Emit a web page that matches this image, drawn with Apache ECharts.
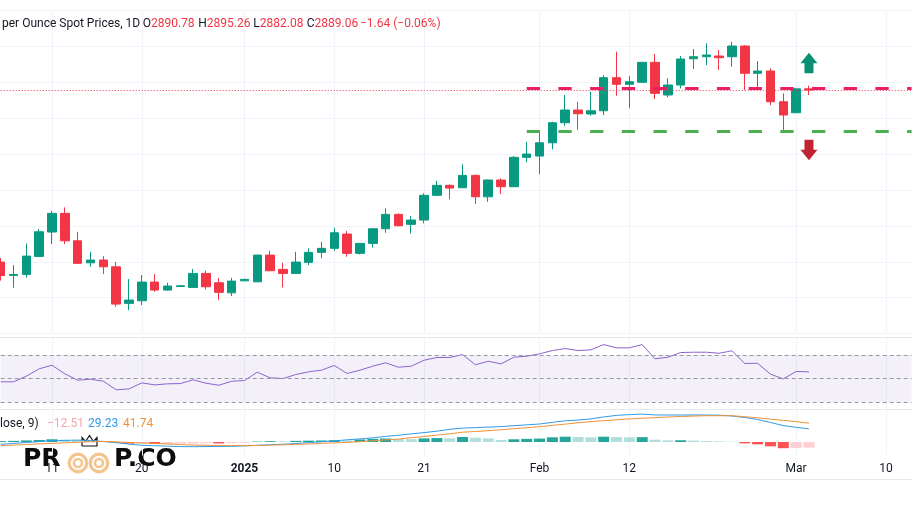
<!DOCTYPE html>
<html>
<head>
<meta charset="utf-8">
<script src="https://cdn.jsdelivr.net/npm/echarts@6/dist/echarts.min.js"></script>
<style>
html,body{margin:0;padding:0;background:#ffffff;}
#chart{width:912px;height:513px;}
</style>
</head>
<body>
<div id="chart"></div>
<script>
// ---------------- DATA ----------------
const categories = [
 '2024-12-05','2024-12-06','2024-12-09','2024-12-10','2024-12-11','2024-12-12','2024-12-13','2024-12-16','2024-12-17','2024-12-18',
 '2024-12-19','2024-12-20','2024-12-23','2024-12-24','2024-12-25','2024-12-26','2024-12-27','2024-12-30','2024-12-31','2025-01-01',
 '2025-01-02','2025-01-03','2025-01-06','2025-01-07','2025-01-08','2025-01-09','2025-01-10','2025-01-13','2025-01-14','2025-01-15',
 '2025-01-16','2025-01-17','2025-01-20','2025-01-21','2025-01-22','2025-01-23','2025-01-24','2025-01-27','2025-01-28','2025-01-29',
 '2025-01-30','2025-01-31','2025-02-03','2025-02-04','2025-02-05','2025-02-06','2025-02-07','2025-02-10','2025-02-11','2025-02-12',
 '2025-02-13','2025-02-14','2025-02-17','2025-02-18','2025-02-19','2025-02-20','2025-02-21','2025-02-24','2025-02-25','2025-02-26',
 '2025-02-27','2025-02-28','2025-03-03','2025-03-04','2025-03-05','2025-03-06','2025-03-07','2025-03-10','2025-03-11','2025-03-12',
 '2025-03-13','2025-03-14'
];

const opens = [2649.6,2631.0,2632.4,2657.5,2691.4,2717.4,2679.2,2648.6,2652.4,2643.0,
 2592.1,2595.7,2621.7,2610.6,2615.7,2614.3,2633.8,2620.8,2606.8,2623.5,
 2622.1,2659.3,2639.4,2633.8,2649.2,2663.1,2668.7,2688.6,2661.7,2675.6,
 2696.0,2716.0,2702.1,2708.1,2742.5,2756.4,2753.1,2770.3,2740.5,2763.8,
 2754.5,2795.4,2797.2,2815.7,2843.6,2861.3,2855.7,2860.3,2906.3,2897.1,
 2899.9,2927.7,2882.2,2896.1,2932.7,2935.5,2936.5,2935.5,2950.4,2912.4,
 2915.6,2872.8,2857.5,2890.78];
const highs = [2655.2,2645.4,2675.6,2695.5,2721.0,2725.8,2691.8,2663.9,2657.9,2650.0,
 2625.9,2631.5,2632.9,2620.8,2617.1,2639.8,2637.5,2627.7,2627.7,2626.3,
 2659.8,2665.3,2648.6,2663.9,2668.7,2677.9,2697.4,2692.8,2676.1,2696.4,
 2724.4,2717.4,2713.6,2745.3,2762.8,2757.8,2785.7,2771.7,2764.3,2766.2,
 2797.2,2817.1,2831.1,2845.0,2882.2,2872.8,2886.8,2910.0,2942.5,2908.6,
 2928.2,2939.3,2905.4,2936.5,2946.2,2954.2,2944.9,2956.4,2951.8,2929.5,
 2919.4,2884.5,2891.2,2895.26];
const lows = [2623.8,2613.8,2627.7,2657.0,2674.7,2674.7,2647.2,2643.0,2632.9,2587.3,
 2582.7,2589.7,2608.2,2609.6,2615.2,2613.9,2611.6,2596.7,2602.2,2623.1,
 2621.6,2637.0,2614.3,2633.4,2645.4,2654.7,2665.3,2657.0,2660.3,2670.0,
 2690.4,2699.7,2689.5,2703.5,2742.0,2736.9,2752.7,2730.4,2733.6,2744.3,
 2754.0,2788.4,2771.7,2806.5,2839.0,2833.8,2853.6,2854.3,2881.2,2863.7,
 2899.5,2876.6,2879.0,2891.5,2918.4,2924.0,2917.0,2921.6,2889.1,2891.5,
 2868.2,2831.1,2857.0,2882.08];
const closes = [2630.8,2632.4,2657.9,2691.8,2717.4,2679.2,2647.8,2652.4,2643.0,2591.1,
 2596.7,2621.7,2610.6,2616.2,2616.6,2633.8,2615.2,2607.4,2623.1,2625.5,
 2659.3,2637.5,2633.8,2649.6,2663.1,2668.7,2690.4,2661.7,2675.6,2696.0,
 2716.0,2700.1,2708.1,2742.5,2756.4,2752.6,2770.3,2740.5,2763.8,2754.5,
 2795.4,2800.0,2815.7,2843.6,2861.3,2856.1,2860.3,2906.3,2897.1,2900.7,
 2927.7,2884.5,2896.1,2932.3,2935.5,2937.9,2934.1,2950.4,2912.4,2915.6,
 2872.8,2854.3,2890.78,2889.06];

const rsiValues = [47.2,47.2,52.0,58.3,61.3,54.0,48.6,49.4,47.7,40.4,
 41.2,46.3,44.6,45.5,45.7,48.9,46.0,44.3,47.7,48.3,
 55.4,50.6,50.0,53.4,55.7,57.1,61.1,54.3,57.1,60.5,
 63.4,59.6,60.5,65.6,67.9,67.9,70.4,61.7,64.7,62.5,
 68.1,69.0,71.0,73.8,75.5,73.8,74.4,78.9,76.1,76.1,
 78.9,66.8,68.1,72.1,72.4,72.4,71.5,73.6,62.8,63.0,
 53.7,49.7,56.0,55.7];

const macdLine = [-5.1,-3.1,-1.1,0.9,2.9,3.6,4.2,3.3,1.1,-1.6,
 -4.7,-7.3,-8.2,-9.3,-10.2,-10.4,-10.2,-9.8,-9.6,-8.7,
 -7.3,-6.2,-5.1,-3.3,-1.3,0.4,2.4,4.9,6.9,9.3,
 12.4,15.1,18.0,20.9,24.0,28.2,30.9,32.0,33.1,34.2,
 36.2,38.2,40.0,43.6,47.1,48.9,51.3,55.8,59.1,60.9,
 62.0,60.2,60.0,60.0,60.0,60.0,59.6,57.8,54.4,50.0,
 43.3,36.5,32.5,29.23];
const signalLine = [-8.2,-6.9,-5.6,-4.2,-3.1,-1.8,-0.7,0.7,1.3,0.2,
 -1.1,-2.2,-3.3,-4.4,-5.6,-6.7,-7.3,-7.8,-8.0,-8.2,
 -7.8,-6.9,-6.2,-5.3,-4.4,-3.1,-2.0,-0.9,0.7,2.7,
 4.7,6.4,9.6,12.2,15.3,18.2,21.8,23.3,25.1,27.3,
 29.6,31.8,34.0,36.9,39.8,42.7,45.3,47.3,49.3,51.3,
 52.9,54.2,55.6,56.7,57.6,58.4,58.4,58.4,56.2,53.8,
 50.7,48.0,45.3,41.74];
const macdHist = [2.0,2.5,3.5,4.5,6.0,5.0,4.0,2.5,0.8,-1.2,
 -3.5,-3.0,-4.5,-4.0,-3.6,-3.2,-2.8,-3.3,-2.6,-1.8,
 1.0,1.8,1.5,2.5,3.0,3.4,4.0,3.6,5.5,7.0,
 7.8,6.8,6.2,8.0,8.8,8.2,11.1,9.6,8.1,4.4,
 6.0,7.0,7.6,10.4,11.8,11.1,10.4,11.8,11.1,10.4,
 10.8,5.2,3.7,3.9,3.0,2.2,1.5,0.7,-3.0,-5.2,
 -9.6,-13.8,-13.0,-12.51];

const tickLabels = [[4,'11'],[11,'20'],[19,'2025'],[26,'10'],[33,'21'],[42,'Feb'],[49,'12'],[62,'Mar'],[69,'10']];

const resistanceLevel = 2891.5;
const supportLevel = 2832.0;
const levelStartIndex = 41;
const levelEndIndex = 71;
const upArrowLevel = 2926.7;
const downArrowLevel = 2805.6;
const arrowIndex = 63;

const headerTitle = 'per Ounce Spot Prices, 1D';
const lastIdx = 63;
const changeText = '\u22121.64 (\u22120.06%)';
const macdTitle = 'lose, 9)';

// ---------------- CHART ----------------
const FONT = 'Roboto, "Noto Sans", sans-serif';
const GREEN = '#089981', RED = '#f23645';
const labelMap = new Map(tickLabels);
const gridL = 0.7, gridR = 0.4;

function xAxisFor(gi, showLabels) {
  return {
    type: 'category', gridIndex: gi, data: categories, boundaryGap: false,
    axisLine: {show: false}, axisTick: {show: false},
    axisLabel: showLabels ? {
      show: true, interval: (i) => labelMap.has(i), margin: 7,
      color: '#131722', fontSize: 12, fontFamily: FONT,
      formatter: (v, i) => { const t = labelMap.get(i) || ''; return t === '2025' ? '{y|' + t + '}' : t; },
      rich: {y: {fontWeight: 'bold', fontSize: 12, color: '#131722', fontFamily: FONT}}
    } : {show: false},
    splitLine: {show: true, interval: (i) => labelMap.has(i), lineStyle: {color: '#f0f3fa', width: 1}}
  };
}

const candleData = opens.map((o, i) => [o, closes[i], lows[i], highs[i]]);

const upArrow = 'path://M8.5,0 L17,10.5 L13,10.5 L13,20.5 L4,20.5 L4,10.5 L0,10.5 Z';
const downArrow = 'path://M4,0 L13,0 L13,10 L17,10 L8.5,20.5 L0,10 L4,10 Z';

function histColor(p) {
  const i = p.dataIndex, v = macdHist[i], prev = i > 0 ? macdHist[i - 1] : v;
  if (v >= 0) return v >= prev ? '#26a69a' : '#b2dfdb';
  return v < prev ? '#ff5252' : '#ffcdd2';
}

function hdr(x, label, value) {
  return {type: 'text', x: x, y: 24, z: 50,
    style: {text: '{a|' + label + '}{b|' + value + '}', verticalAlign: 'middle', font: '12px ' + FONT,
      rich: {a: {fill: '#131722', font: '12px ' + FONT}, b: {fill: RED, font: '12px ' + FONT}}}};
}

const option = {
  animation: false,
  backgroundColor: '#ffffff',
  textStyle: {fontFamily: FONT},
  grid: [
    {left: gridL, right: gridR, top: 10.4, height: 323.2},
    {left: gridL, right: gridR, top: 337.4, height: 70.5},
    {left: gridL, right: gridR, top: 408.25, height: 47.25}
  ],
  xAxis: [xAxisFor(0, false), xAxisFor(1, false), xAxisFor(2, true)],
  yAxis: [
    {type: 'value', gridIndex: 0, min: 2550, max: 3000, interval: 50, axisLabel: {show: false},
     axisLine: {show: false}, axisTick: {show: false}, splitLine: {show: true, lineStyle: {color: '#f0f3fa'}}},
    {type: 'value', gridIndex: 1, min: 25, max: 85, axisLabel: {show: false}, axisLine: {show: false},
     axisTick: {show: false}, splitLine: {show: false}},
    {type: 'value', gridIndex: 2, min: -30, max: 75, axisLabel: {show: false}, axisLine: {show: false},
     axisTick: {show: false}, splitLine: {show: false}}
  ],
  series: [
    {
      type: 'candlestick', xAxisIndex: 0, yAxisIndex: 0, data: candleData, barWidth: 9,
      itemStyle: {color: GREEN, color0: RED, borderColor: GREEN, borderColor0: RED, borderWidth: 1},
      markLine: {
        silent: true, symbol: 'none', label: {show: false}, animation: false,
        data: [
          {yAxis: closes[lastIdx], lineStyle: {color: RED, width: 1, type: [1, 2]}},
          [{coord: [levelStartIndex, resistanceLevel], lineStyle: {color: '#e91e63', width: 3, type: [13.3, 18.4]}},
           {coord: [levelEndIndex, resistanceLevel]}],
          [{coord: [levelStartIndex, supportLevel], lineStyle: {color: '#4caf50', width: 3, type: [13.3, 18.4]}},
           {coord: [levelEndIndex, supportLevel]}]
        ]
      },
      markPoint: {
        silent: true, label: {show: false}, animation: false,
        data: [
          {coord: [arrowIndex, upArrowLevel], symbol: upArrow, symbolSize: [17, 20.5], itemStyle: {color: '#0a8f72'}},
          {coord: [arrowIndex, downArrowLevel], symbol: downArrow, symbolSize: [17, 20.5], itemStyle: {color: '#bf2430'}}
        ]
      }
    },
    {
      type: 'line', xAxisIndex: 1, yAxisIndex: 1, data: rsiValues, symbol: 'none', smooth: false,
      lineStyle: {color: '#8e63cc', width: 1}, z: 3,
      markArea: {silent: true, itemStyle: {color: 'rgba(126,87,194,0.09)'}, data: [[{yAxis: 30}, {yAxis: 70}]]},
      markLine: {silent: true, symbol: 'none', label: {show: false},
        lineStyle: {color: '#9598a1', width: 1, type: [4, 3]},
        data: [{yAxis: 70}, {yAxis: 50}, {yAxis: 30}]}
    },
    {
      type: 'bar', xAxisIndex: 2, yAxisIndex: 2, data: macdHist, barWidth: 11,
      itemStyle: {color: histColor}
    },
    {
      type: 'line', xAxisIndex: 2, yAxisIndex: 2, data: macdLine, symbol: 'none',
      lineStyle: {color: '#2f9be8', width: 1}
    },
    {
      type: 'line', xAxisIndex: 2, yAxisIndex: 2, data: signalLine, symbol: 'none',
      lineStyle: {color: '#f09236', width: 1}
    }
  ],
  graphic: [
    // pane separators
    {type: 'line', z: 1, shape: {x1: 0, y1: 337.5, x2: 912, y2: 337.5}, style: {stroke: '#e6e8ee', lineWidth: 1}},
    {type: 'line', z: 1, shape: {x1: 0, y1: 409.5, x2: 912, y2: 409.5}, style: {stroke: '#e6e8ee', lineWidth: 1}},
    {type: 'line', z: 1, shape: {x1: 0, y1: 479.5, x2: 912, y2: 479.5}, style: {stroke: '#e6e8ee', lineWidth: 1}},
    // header
    {type: 'text', x: 2, y: 24, z: 50, style: {text: headerTitle, fill: '#131722', font: '12px ' + FONT, verticalAlign: 'middle'}},
    hdr(142.7, 'O', opens[lastIdx].toFixed(2)),
    hdr(198.3, 'H', highs[lastIdx].toFixed(2)),
    hdr(253.3, 'L', lows[lastIdx].toFixed(2)),
    hdr(306.7, 'C', closes[lastIdx].toFixed(2)),
    {type: 'text', x: 360, y: 24, z: 50, style: {text: changeText, fill: RED, font: '12px ' + FONT, verticalAlign: 'middle'}},
    // MACD header
    {type: 'text', x: 0, y: 424, z: 50, style: {text: macdTitle, fill: '#131722', font: '12px ' + FONT, verticalAlign: 'middle'}},
    {type: 'text', x: 47, y: 424, z: 50, style: {text: '\u2212' + Math.abs(macdHist[lastIdx]).toFixed(2), fill: '#f5a3ab', font: '12px ' + FONT, verticalAlign: 'middle'}},
    {type: 'text', x: 88, y: 424, z: 50, style: {text: macdLine[lastIdx].toFixed(2), fill: '#2f9be8', font: '12px ' + FONT, verticalAlign: 'middle'}},
    {type: 'text', x: 123, y: 424, z: 50, style: {text: signalLine[lastIdx].toFixed(2), fill: '#f09236', font: '12px ' + FONT, verticalAlign: 'middle'}},
    // logo
    {type: 'group', z: 100, children: [
      {type: 'text', x: 23, y: 459.5, style: {text: 'PR', fill: '#0d0d0d', font: 'bold 25px "DejaVu Sans"', verticalAlign: 'middle'}},
      {type: 'circle', shape: {cx: 78, cy: 463, r: 8.8}, style: {fill: 'none', stroke: '#f4c48e', lineWidth: 3.2}},
      {type: 'circle', shape: {cx: 78, cy: 463, r: 4}, style: {fill: 'none', stroke: '#f4c48e', lineWidth: 2.6}},
      {type: 'circle', shape: {cx: 99, cy: 463, r: 8.8}, style: {fill: 'none', stroke: '#f4c48e', lineWidth: 3.2}},
      {type: 'circle', shape: {cx: 99, cy: 463, r: 4}, style: {fill: 'none', stroke: '#f4c48e', lineWidth: 2.6}},
      {type: 'polyline', shape: {points: [[82, 446], [82, 437.5], [85.5, 441.5], [89.5, 435.5], [93.5, 441.5], [97, 437.5], [97, 446], [82, 446]]},
       style: {fill: 'none', stroke: '#111', lineWidth: 1.2}},
      {type: 'text', x: 114, y: 459.5, style: {text: 'P.CO', fill: '#0d0d0d', font: 'bold 25px "DejaVu Sans"', verticalAlign: 'middle'}}
    ]}
  ]
};

const chart = echarts.init(document.getElementById('chart'), null, {renderer: 'canvas'});
chart.setOption(option);
</script>
</body>
</html>
